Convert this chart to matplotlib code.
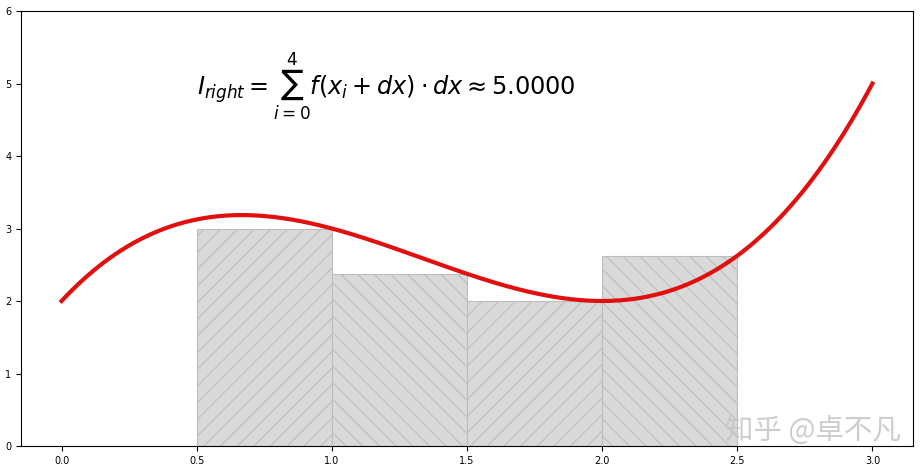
import numpy as np
import matplotlib.pyplot as plt

# f(x) = x^3 - 4x^2 + 4x + 2
coeffs = [1, -4, 4, 2]
x_range = [0.0, 3.0]
bar_left = [0.5, 1.0, 1.5, 2.0]
bar_height = [3.0, 2.375, 2.0, 2.625]
dx = 0.5
hatches = ['//', '\\\\', '//', '\\\\']
label = r'$I_{right} = \sum_{i=0}^{4} f(x_i+dx)\cdot dx \approx 5.0000$'

plt.rcParams['hatch.color'] = '#b0b0b0'
plt.rcParams['hatch.linewidth'] = 0.8

fig = plt.figure(figsize=(9.24, 4.70), dpi=100)
ax = fig.add_axes([21 / 924, 24 / 470, 892 / 924, 435 / 470])

x = np.linspace(x_range[0], x_range[1], 300)
for i in range(len(bar_left)):
    ax.bar(bar_left[i], bar_height[i], width=dx, align='edge',
           color='#d9d9d9', edgecolor='#bdbdbd', linewidth=0.8,
           hatch=hatches[i], zorder=1)
ax.plot(x, np.polyval(coeffs, x), color='#e20f0f', linewidth=3, zorder=2)

ax.set_ylim(0, 6)
ax.tick_params(labelsize=7)
ax.text(0.5, 4.97, label, fontsize=17.3, ha='left', va='center')

fig.text(0.88, 0.083, '知乎 @卓不凡', fontsize=20.5, color='#c8c8c8', alpha=0.9,
         family=['Noto Sans CJK SC', 'DejaVu Sans'], ha='center', va='center')

plt.savefig('out.png', dpi=100)
